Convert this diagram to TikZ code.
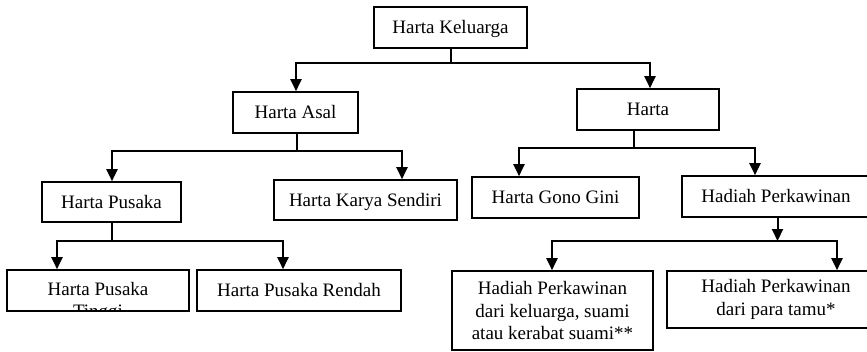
\documentclass[tikz,border=0pt]{standalone}
\usepackage{fontspec}
\setmainfont{Liberation Serif}
\usetikzlibrary{arrows.meta}
\begin{document}
\begin{tikzpicture}[x=1pt,y=-1pt,
  box/.style={draw,line width=1.6pt,rectangle,inner sep=0pt,font=\fontsize{19}{22.5}\selectfont,align=center,text height=12pt,text depth=0pt},
  txt/.style={inner sep=0pt,font=\fontsize{19}{22.5}\selectfont},
  conn/.style={line width=2pt,line join=miter},
  arr/.style={conn,-{Triangle[length=12pt,width=11pt]}},
  arr2/.style={conn,{Triangle[length=12pt,width=11pt]}-{Triangle[length=12pt,width=11pt]}}]
\useasboundingbox (0,0) rectangle (867,351);
\clip (0,0) rectangle (867,351);
% nodes
\node[box,minimum width=153pt,minimum height=41pt] (HK) at (450.5,27.5) {Harta Keluarga};
\node[box,minimum width=125pt,minimum height=41pt] (HA) at (295.5,112.5) {Harta Asal};
\node[box,minimum width=142pt,minimum height=41pt] (H) at (648,109.5) {Harta};
\node[box,minimum width=139pt,minimum height=40pt] (HP) at (111.5,202) {Harta Pusaka};
\node[box,minimum width=183pt,minimum height=40pt] (HKS) at (365.5,200) {Harta Karya Sendiri};
\node[box,minimum width=167pt,minimum height=41pt] (HGG) at (555.5,197.5) {Harta Gono Gini};
\node[box,minimum width=188pt,minimum height=41pt] (HPk) at (776,196.5) {Hadiah Perkawinan};
\node[box,minimum width=182pt,minimum height=41pt] (HPT) at (98,290.5) {};
\node[box,minimum width=204pt,minimum height=41pt] (HPR) at (299,290.5) {Harta Pusaka Rendah};
\node[box,minimum width=201pt,minimum height=79pt,text height=,text depth=] (HPK1) at (552.5,310.5) {Hadiah Perkawinan\\dari keluarga, suami\\atau kerabat suami**};
\node[box,minimum width=218pt,minimum height=57pt,text height=,text depth=] (HPK2) at (776,299.5) {Hadiah Perkawinan\\dari para tamu*};
% clipped two-line text of HPT
\node[txt,anchor=base] (HPTa) at (98,295) {Harta Pusaka};
\begin{scope}
\clip (HPT.north west) rectangle (HPT.south east);
\node[txt,anchor=base] (HPTb) at (98,317) {Tinggi};
\end{scope}
% bus coordinates
\coordinate (k1) at (296,63);
\coordinate (k2) at (650,63);
\coordinate (a1) at (112,151);
\coordinate (a2) at (402,151);
\coordinate (h1) at (519,148);
\coordinate (h2) at (755,148);
\coordinate (p1) at (57,241);
\coordinate (p2) at (283,241);
\coordinate (d1) at (552,241);
\coordinate (d2) at (837,241);
% connectors
\draw[conn] (HK.south) -- (HK.south |- k1);
\draw[arr2] (k1 |- HA.north) -- (k1) -- (k2) -- (k2 |- H.north);
\draw[conn] ([xshift=1.5pt]HA.south) -- ([xshift=1.5pt]HA.south |- a1);
\draw[arr2] (a1 |- HP.north) -- (a1) -- (a2) -- (a2 |- HKS.north);
\draw[conn] ([xshift=-14pt]H.south) -- ([xshift=-14pt]H.south |- h1);
\draw[arr2] (h1 |- HGG.north) -- (h1) -- (h2) -- (h2 |- HPk.north);
\draw[conn] ([xshift=0.5pt]HP.south) -- ([xshift=0.5pt]HP.south |- p1);
\draw[arr2] (p1 |- HPT.north) -- (p1) -- (p2) -- (p2 |- HPR.north);
\draw[arr] ([xshift=1.5pt]HPk.south) -- ([xshift=1.5pt]HPk.south |- d1);
\draw[arr2] (d1 |- HPK1.north) -- (d1) -- (d2) -- (d2 |- HPK2.north);
\end{tikzpicture}
\end{document}
